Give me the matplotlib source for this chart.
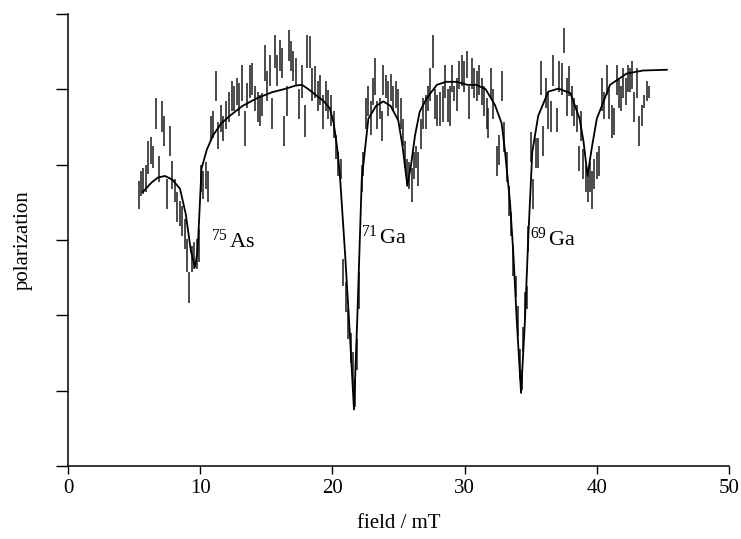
import numpy as np
import matplotlib
matplotlib.use('Agg')
import matplotlib.pyplot as plt

plt.rcParams['font.family'] = ['Liberation Serif', 'DejaVu Serif']
plt.rcParams['mathtext.fontset'] = 'custom'
plt.rcParams['mathtext.rm'] = 'Liberation Serif'
plt.rcParams['mathtext.it'] = 'Liberation Serif:italic'

# measured points: field (mT), upper and lower end of each error bar
field = [5.37, 5.52, 5.70, 5.88, 6.07, 6.26, 6.41, 6.66, 6.91, 7.09,
         7.26, 7.51, 7.72, 7.89, 8.09, 8.27, 8.47, 8.65, 8.85, 9.02,
         9.18, 9.38, 9.55, 9.74, 9.91, 10.06, 10.23, 10.42, 10.57, 10.79,
         10.99, 11.20, 11.37, 11.55, 11.75, 11.95, 12.16, 12.38, 12.56, 12.76,
         12.93, 13.14, 13.39, 13.56, 13.77, 13.94, 14.15, 14.35, 14.52, 14.70,
         14.90, 15.08, 15.28, 15.45, 15.66, 15.83, 16.04, 16.16, 16.36, 16.54,
         16.72, 16.87, 17.04, 17.22, 17.47, 17.68, 17.93, 18.10, 18.28, 18.48,
         18.68, 18.89, 19.08, 19.29, 19.49, 19.69, 19.89, 20.10, 20.27, 20.45,
         20.63, 20.82, 21.03, 21.20, 21.38, 21.54, 21.71, 21.84, 22.03, 22.22,
         22.34, 22.54, 22.72, 22.90, 23.05, 23.22, 23.40, 23.60, 23.73, 23.85,
         24.03, 24.23, 24.43, 24.61, 24.81, 24.98, 25.17, 25.32, 25.49, 25.67,
         25.82, 26.00, 26.17, 26.32, 26.50, 26.68, 26.88, 27.08, 27.25, 27.38,
         27.59, 27.76, 27.94, 28.14, 28.34, 28.52, 28.72, 28.90, 29.02, 29.22,
         29.40, 29.58, 29.78, 29.95, 30.16, 30.33, 30.54, 30.73, 30.92, 31.09,
         31.29, 31.49, 31.67, 31.79, 32.00, 32.17, 32.43, 32.60, 32.81, 33.00,
         33.18, 33.36, 33.51, 33.68, 33.87, 34.02, 34.19, 34.32, 34.44, 34.57,
         34.70, 34.82, 35.02, 35.20, 35.38, 35.57, 35.78, 35.95, 36.13, 36.33,
         36.54, 36.71, 36.97, 37.16, 37.35, 37.52, 37.72, 37.92, 38.10, 38.28,
         38.48, 38.65, 38.80, 38.98, 39.16, 39.31, 39.49, 39.66, 39.81, 39.99,
         40.17, 40.37, 40.54, 40.75, 40.95, 41.13, 41.30, 41.51, 41.68, 41.83,
         42.00, 42.19, 42.34, 42.51, 42.66, 42.84, 43.02, 43.21, 43.40, 43.59,
         43.77, 43.95]
pol_hi = [3.79, 3.91, 3.95, 3.99, 4.31, 4.37, 4.25, 4.88, 4.12, 4.85,
          4.65, 3.81, 4.51, 4.05, 3.81, 3.64, 3.52, 3.45, 3.28, 3.01,
          2.57, 2.92, 2.97, 3.01, 3.15, 3.99, 3.91, 4.04, 3.92, 4.65,
          4.71, 5.25, 4.57, 4.79, 4.65, 4.84, 4.97, 5.11, 5.05, 5.15,
          5.08, 5.32, 4.71, 5.08, 5.32, 5.35, 5.05, 4.97, 4.92, 4.95,
          5.59, 5.24, 5.45, 4.88, 5.72, 5.45, 5.65, 5.55, 4.65, 5.05,
          5.79, 5.64, 5.51, 5.41, 5.01, 5.32, 4.79, 5.72, 5.71, 5.28,
          5.31, 5.11, 5.19, 4.92, 5.11, 4.99, 4.92, 4.71, 4.39, 4.17,
          4.08, 2.75, 2.44, 2.08, 1.77, 1.51, 1.15, 1.68, 2.57, 3.99,
          4.17, 4.88, 5.05, 4.84, 5.15, 5.41, 4.84, 4.88, 4.71, 5.32,
          5.19, 5.11, 5.21, 5.05, 5.11, 5.01, 4.88, 4.61, 4.31, 4.08,
          4.04, 3.95, 4.17, 4.25, 4.17, 4.61, 4.88, 4.92, 5.05, 5.28,
          5.72, 5.01, 4.92, 4.97, 5.05, 5.32, 5.01, 5.05, 5.32, 5.05,
          5.15, 5.37, 5.45, 5.37, 5.51, 5.05, 5.41, 5.28, 5.24, 5.32,
          5.15, 5.05, 4.88, 4.75, 5.28, 5.01, 4.25, 4.39, 5.24, 4.57,
          4.17, 3.72, 3.37, 2.92, 2.52, 2.12, 1.55, 1.28, 1.85, 2.31,
          2.39, 3.19, 4.44, 3.81, 4.35, 4.35, 5.37, 4.52, 5.15, 4.97,
          4.84, 5.45, 4.75, 5.37, 5.35, 5.81, 5.15, 5.31, 5.05, 4.88,
          4.79, 4.25, 4.71, 4.21, 3.99, 3.91, 4.04, 3.91, 4.08, 4.17,
          4.25, 5.15, 4.97, 5.32, 5.01, 4.79, 4.75, 5.32, 5.15, 5.05,
          5.28, 5.15, 5.32, 5.28, 5.37, 4.97, 5.28, 4.65, 4.79, 4.92,
          5.11, 5.05]
pol_lo = [3.41, 3.59, 3.61, 3.64, 3.88, 4.01, 3.95, 4.48, 3.77, 4.44,
          4.25, 3.41, 4.11, 3.68, 3.51, 3.24, 3.19, 3.05, 2.88, 2.57,
          2.17, 2.57, 2.61, 2.61, 2.71, 3.64, 3.55, 3.68, 3.51, 4.31,
          4.35, 4.85, 4.21, 4.44, 4.31, 4.48, 4.57, 4.71, 4.71, 4.79,
          4.65, 4.84, 4.25, 4.75, 4.88, 4.92, 4.71, 4.57, 4.51, 4.65,
          5.11, 4.84, 5.05, 4.48, 5.28, 5.05, 5.24, 5.15, 4.25, 4.65,
          5.37, 5.24, 5.11, 5.05, 4.61, 4.88, 4.37, 5.28, 5.28, 4.85,
          4.88, 4.71, 4.79, 4.48, 4.71, 4.61, 4.52, 4.35, 4.08, 3.85,
          3.81, 2.39, 2.04, 1.68, 1.37, 1.05, 0.79, 1.28, 2.08, 3.64,
          3.85, 4.48, 4.65, 4.39, 4.79, 4.92, 4.48, 4.61, 4.31, 4.92,
          4.88, 4.65, 4.84, 4.71, 4.75, 4.61, 4.48, 4.25, 3.95, 3.72,
          3.68, 3.51, 3.81, 3.95, 3.72, 4.21, 4.48, 4.48, 4.71, 4.84,
          5.28, 4.61, 4.52, 4.52, 4.57, 4.88, 4.57, 4.52, 4.97, 4.84,
          4.71, 5.01, 5.05, 4.97, 5.15, 4.61, 5.01, 4.88, 4.84, 4.92,
          4.79, 4.65, 4.48, 4.35, 4.88, 4.61, 3.85, 3.99, 4.84, 4.17,
          3.77, 3.32, 3.05, 2.52, 2.25, 1.72, 1.15, 1.01, 1.51, 1.95,
          2.08, 2.84, 4.04, 3.41, 3.95, 3.95, 4.92, 4.12, 4.75, 4.48,
          4.44, 5.05, 4.44, 4.97, 4.92, 5.48, 4.65, 4.91, 4.65, 4.52,
          4.44, 3.91, 4.31, 3.81, 3.64, 3.51, 3.64, 3.41, 3.68, 3.81,
          3.85, 4.71, 4.61, 4.92, 4.61, 4.35, 4.39, 4.92, 4.75, 4.71,
          4.88, 4.79, 4.97, 4.97, 5.01, 4.57, 4.88, 4.25, 4.52, 4.75,
          4.84, 4.88]

# fitted curve
fit_x = [5.67, 6.3, 6.8, 7.34, 7.9, 8.47, 8.9, 9.3, 9.6, 9.8,
         10.1, 10.5, 10.97, 11.6, 12.25, 13.2, 14.27, 15.4, 16.5, 17.2,
         17.7, 18.2, 18.7, 19.3, 19.8, 20.1, 20.4, 20.57, 20.95, 21.33,
         21.63, 21.88, 22.22, 22.72, 23.3, 23.85, 24.4, 24.98, 25.3, 25.67,
         25.95, 26.25, 26.6, 27.13, 27.9, 28.6, 29.4, 30.2, 30.9, 31.6,
         32.3, 32.8, 33.06, 33.43, 33.68, 33.94, 34.27, 34.57, 34.82, 35.12,
         35.57, 36.33, 37.1, 38.0, 38.7, 39.0, 39.3, 39.6, 40.0, 41.0,
         42.26, 43.5, 45.3]
fit_y = [3.64, 3.76, 3.83, 3.85, 3.80, 3.68, 3.35, 2.85, 2.64, 2.85,
         3.95, 4.20, 4.39, 4.55, 4.65, 4.78, 4.88, 4.96, 5.01, 5.05,
         5.06, 5.00, 4.93, 4.85, 4.75, 4.55, 4.17, 3.85, 2.84, 1.72,
         0.75, 1.95, 3.81, 4.61, 4.78, 4.84, 4.78, 4.59, 4.25, 3.72,
         4.00, 4.39, 4.70, 4.88, 5.06, 5.10, 5.10, 5.06, 5.06, 5.00,
         4.79, 4.55, 4.17, 3.51, 2.84, 1.95, 0.97, 1.95, 3.05, 4.17,
         4.65, 4.97, 5.01, 4.95, 4.61, 4.30, 3.85, 4.20, 4.61, 5.06,
         5.21, 5.25, 5.26]

labels = [r'$^{\mathrm{75}}\,$As', r'$^{\mathrm{71}}\,$Ga', r'$^{\mathrm{69}}\,$Ga']
label_x = [10.8, 22.2, 34.95]
label_y = [2.99, 3.04, 3.01]

fig = plt.figure(figsize=(7.41, 5.39), dpi=100)
ax = fig.add_axes([0.0918, 0.1354, 0.892, 0.8386])

ax.vlines(field, pol_lo, pol_hi, color='#1a1a1a', linewidth=1.1)
ax.plot(fit_x, fit_y, color='black', linewidth=1.3)

for t, lx, ly in zip(labels, label_x, label_y):
    ax.text(lx, ly, t, fontsize=16, va='center', ha='left')

ax.set_xlim(0, 50)
ax.set_ylim(0, 6)
ax.set_xticks([0, 10, 20, 30, 40, 50])
ax.set_yticks([0, 1, 2, 3, 4, 5, 6])
ax.set_yticklabels([])
ax.spines['top'].set_visible(False)
ax.spines['right'].set_visible(False)
ax.spines['left'].set_linewidth(1.1)
ax.spines['bottom'].set_linewidth(1.1)
ax.tick_params(axis='x', direction='out', length=6, width=1.0, labelsize=15, pad=3)
ax.tick_params(axis='y', direction='out', length=9, width=1.0)
ax.set_xlabel('field / mT', fontsize=15, labelpad=12)
ax.set_ylabel('polarization', fontsize=15, labelpad=13)

fig.savefig('out.png', dpi=100)
